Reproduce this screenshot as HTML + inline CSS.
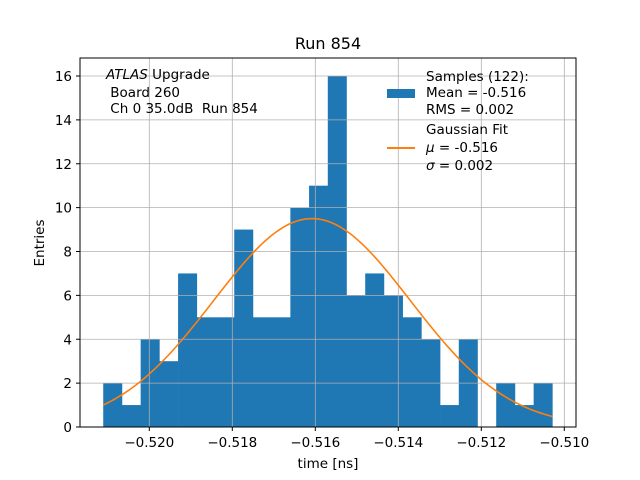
<!DOCTYPE html>
<html><head><meta charset="utf-8"><style>
body{margin:0;background:#fff;}
svg{display:block;font-family:"DejaVu Sans","Liberation Sans",sans-serif;}
text{white-space:pre;}
</style></head><body>
<svg id="chart" width="640" height="480" viewBox="0 0 640 480" xmlns="http://www.w3.org/2000/svg" xml:space="preserve">
<rect width="640" height="480" fill="#fff"/>
<g id="bars"></g>
<g id="grid"></g>
<g id="fit"></g>
<rect x="80" y="58" width="496" height="369" fill="none" stroke="#000" stroke-width="1"/>
<g id="ticks"></g>
<text x="328" y="49" font-size="16" text-anchor="middle">Run 854</text>
<text x="328" y="468" font-size="13.5" text-anchor="middle">time [ns]</text>
<text transform="translate(44,243) rotate(-90)" font-size="13.5" text-anchor="middle">Entries</text>
<g font-size="13.5">
<text x="106" y="79"><tspan font-style="italic">ATLAS</tspan> Upgrade</text>
<text x="106" y="97"> Board 260</text>
<text x="106" y="113"> Ch 0 35.0dB  Run 854</text>
</g>
<g font-size="13.5">
<rect x="387" y="89" width="28" height="9" fill="#1f77b4"/>
<text x="426" y="81">Samples (122):</text>
<text x="426" y="97">Mean = -0.516</text>
<text x="426" y="114">RMS = 0.002</text>
<line x1="387" y1="148" x2="415" y2="148" stroke="#ff7f0e" stroke-width="2"/>
<text x="426" y="134">Gaussian Fit</text>
<text x="426" y="152"><tspan font-style="italic">μ</tspan> = -0.516</text>
<text x="426" y="170"><tspan font-style="italic">σ</tspan> = 0.002</text>
</g>
</svg>
<script>
const counts=[2,1,4,3,7,5,5,9,5,5,10,11,16,6,7,6,5,4,1,4,0,2,1,2];
const binStart=-0.52111;
const binEnd=-0.510288;
const xTicks=[-0.520,-0.518,-0.516,-0.514,-0.512,-0.510];
const yTicks=[0,2,4,6,8,10,12,14,16];
const fitMu=-0.51608, fitSigma=0.00237, fitAmp=9.5;
const NS='http://www.w3.org/2000/svg';
const X=v=>149.3+(v+0.520)/0.002*83.0;
const Y=v=>427-v*(351/16);
function mk(t,a,p){const e=document.createElementNS(NS,t);for(const k in a)e.setAttribute(k,a[k]);p.appendChild(e);return e;}
const grid=document.getElementById('grid'),ticks=document.getElementById('ticks'),bars=document.getElementById('bars'),fit=document.getElementById('fit');
xTicks.forEach(v=>{const x=X(v);
const g=mk('line',{x1:x,x2:x,y1:58,y2:427,stroke:'#b0b0b0','stroke-width':0.8},grid);


mk('line',{x1:x,x2:x,y1:427,y2:431,stroke:'#000'},ticks);
const t=mk('text',{x:x,y:447,'font-size':13.5,'text-anchor':'middle'},ticks);
t.textContent='\u2212'+Math.abs(v).toFixed(3);

});
yTicks.forEach(v=>{const y=Y(v);
const g=mk('line',{x1:80,x2:576,y1:y,y2:y,stroke:'#b0b0b0','stroke-width':0.8},grid);


mk('line',{x1:76,x2:80,y1:y,y2:y,stroke:'#000'},ticks);
const t=mk('text',{x:72,y:y+5,'font-size':13.5,'text-anchor':'end'},ticks);
t.textContent=v;

});
const bw=(binEnd-binStart)/counts.length;
counts.forEach((c,i)=>{if(!c)return;const x0=X(binStart+i*bw),x1=X(binStart+(i+1)*bw);
const r=mk('rect',{x:x0,y:Y(c),width:x1-x0+0.3,height:Y(0)-Y(c),fill:'#1f77b4'},bars);

});
let d='';for(let i=0;i<=200;i++){const v=binStart+(binEnd-binStart)*i/200;const f=fitAmp*Math.exp(-Math.pow(v-fitMu,2)/(2*fitSigma*fitSigma));d+=(i?'L':'M')+X(v).toFixed(2)+','+Y(f).toFixed(2);}
const p=mk('path',{d:d,fill:'none',stroke:'#ff7f0e','stroke-width':1.6},fit);


</script>
</body></html>
